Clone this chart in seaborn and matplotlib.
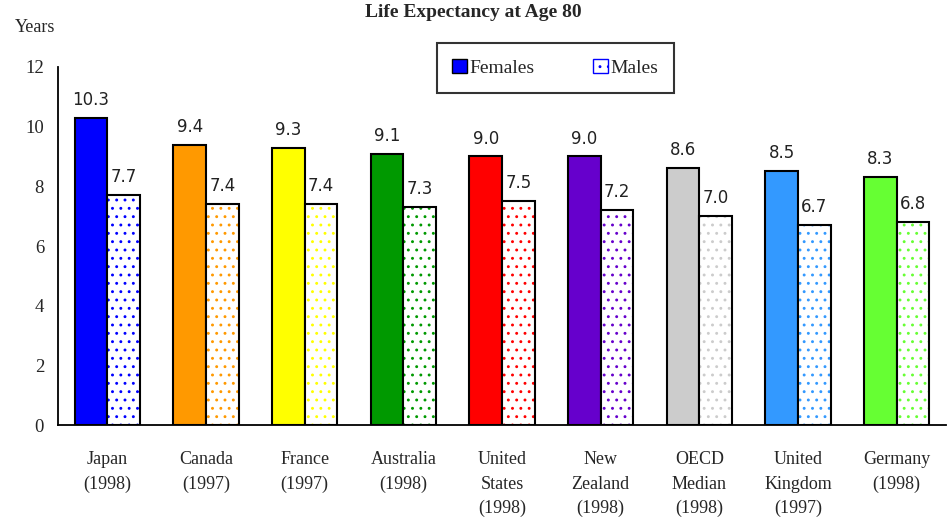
import numpy as np
import pandas as pd
import matplotlib
matplotlib.use("Agg")
import matplotlib.pyplot as plt
import seaborn as sns
from matplotlib.patches import Rectangle, Patch

# dados
paises = ["Japan\n(1998)", "Canada\n(1997)", "France\n(1997)", "Australia\n(1998)",
          "United\nStates\n(1998)", "New\nZealand\n(1998)", "OECD\nMedian\n(1998)",
          "United\nKingdom\n(1997)", "Germany\n(1998)"]
mulheres = [10.3, 9.4, 9.3, 9.1, 9.0, 9.0, 8.6, 8.5, 8.3]
homens = [7.7, 7.4, 7.4, 7.3, 7.5, 7.2, 7.0, 6.7, 6.8]
cores = ["#0000FF", "#FF9900", "#FFFF00", "#009900", "#FF0000",
         "#6600CC", "#CCCCCC", "#3399FF", "#66FF33"]
y_ticks = [0, 2, 4, 6, 8, 10, 12]

df = pd.DataFrame({
    "pais": paises * 2,
    "anos": mulheres + homens,
    "sexo": ["Females"] * len(paises) + ["Males"] * len(paises),
})

sns.set_style("white")
plt.rcParams["font.family"] = ["Liberation Serif", "DejaVu Serif"]
plt.rcParams["hatch.linewidth"] = 0.9

fig = plt.figure(figsize=(9.47, 5.27), dpi=100)
ax = fig.add_axes([0.0612, 0.1935, 0.9378, 0.6794])

sns.barplot(data=df, x="pais", y="anos", hue="sexo", order=paises,
            hue_order=["Females", "Males"], width=0.66, dodge=True,
            gap=0, legend=False, ax=ax, saturation=1)

n = len(paises)
barras = ax.patches[:2 * n]
for i, p in enumerate(barras):
    cor = cores[i % n]
    if i < n:
        p.set_facecolor(cor)
        p.set_edgecolor("black")
        p.set_linewidth(1.5)
    else:
        # fundo branco com pontos coloridos, contorno por cima
        p.set_facecolor("white")
        p.set_hatch("..")
        p.set_edgecolor(cor)
        p.set_linewidth(0)
        ax.add_patch(Rectangle(p.get_xy(), p.get_width(), p.get_height(),
                               fill=False, edgecolor="black", linewidth=1.5, zorder=3))

# rotulos de valor
for p, v in zip(barras, mulheres + homens):
    ax.text(p.get_x() + p.get_width() / 2, v + 0.3, f"{v:.1f}", ha="center", va="bottom",
            fontsize=12, family="DejaVu Sans", color="#222222")

ax.set_ylim(0, 12)
ax.set_xlim(-0.5, n - 0.5)
ax.set_yticks(y_ticks)
ax.set_yticklabels([str(t) for t in y_ticks], fontsize=13.5)
ax.set_xticks(np.arange(n))
ax.set_xticklabels(paises, fontsize=13, linespacing=1.55, va="top")
ax.set_xticks(np.arange(n + 1) - 0.5, minor=True)
ax.tick_params(axis="x", which="major", length=0, pad=19)
ax.tick_params(axis="x", which="minor", length=7, width=1.3, direction="out", color="black")
ax.tick_params(axis="y", length=6, width=1.3, direction="out", color="black", pad=4)
ax.set_xlabel("")
ax.set_ylabel("")
ax.spines["top"].set_visible(False)
ax.spines["right"].set_visible(False)
ax.spines["left"].set_color("black")
ax.spines["bottom"].set_color("black")
ax.spines["left"].set_linewidth(1.3)
ax.spines["bottom"].set_linewidth(1.3)
ax.grid(False)

fig.text(0.016, 1 - 27 / 527, "Years", fontsize=13, va="center", ha="left")
fig.text(0.5, 1 - 17 / 527, "Life Expectancy at Age 80", fontsize=14,
         fontweight="bold", ha="center", va="baseline")

# legenda
handles = [Patch(facecolor=cores[0], edgecolor="black", linewidth=1),
           Patch(facecolor="white", edgecolor=cores[0], hatch="..", linewidth=1)]
leg = fig.legend(handles, ["Females", "Males"], loc="center", ncol=2,
                 bbox_to_anchor=(0.5865, 1 - 68 / 527), fontsize=14, frameon=True,
                 fancybox=False, edgecolor="black", handlelength=0.75, handleheight=0.75,
                 handletextpad=0.15, columnspacing=3.0, borderpad=0.8, borderaxespad=0)
leg.get_frame().set_linewidth(1.5)
for h in leg.legend_handles:
    h.set_edgecolor("black")
leg.legend_handles[1].set_edgecolor(cores[0])

fig.savefig("out.png", dpi=100, facecolor="white")
